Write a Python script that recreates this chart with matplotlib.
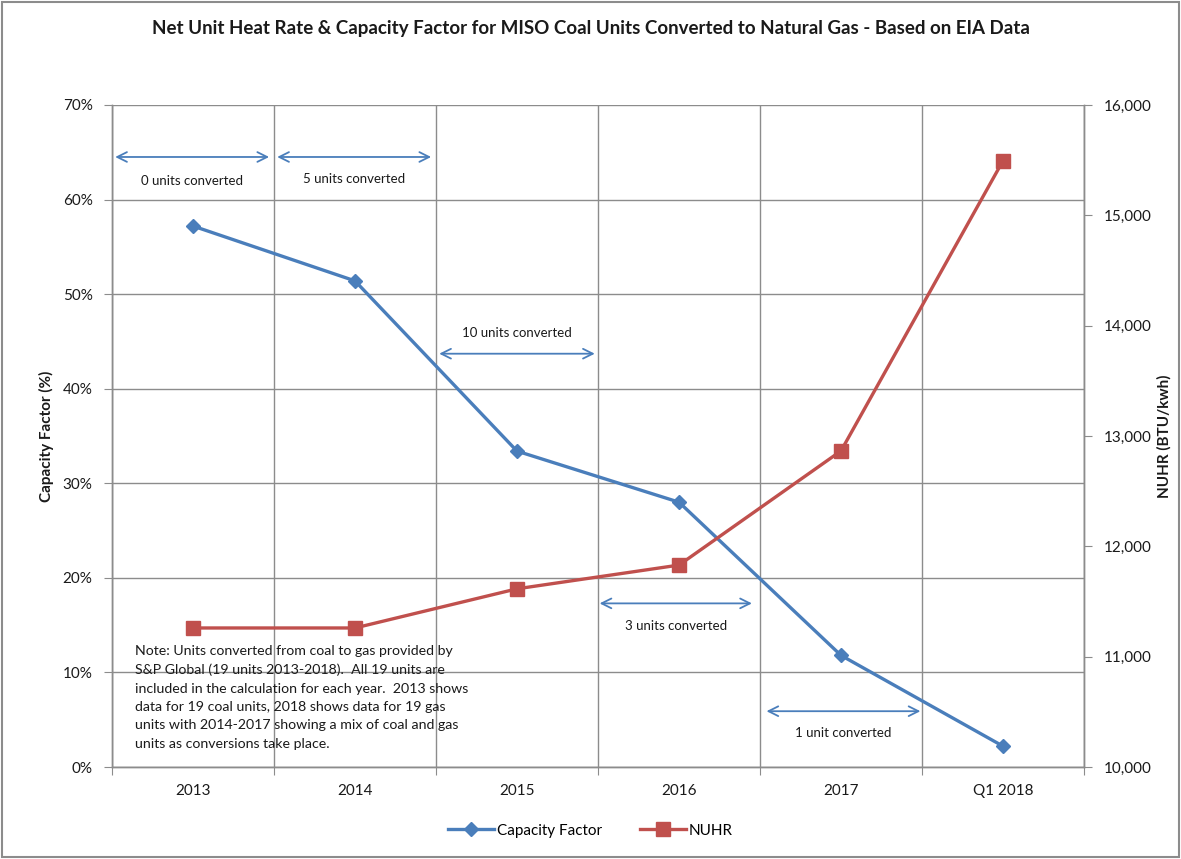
import matplotlib.pyplot as plt
from matplotlib.ticker import FuncFormatter, MultipleLocator, FixedLocator
from matplotlib.patches import Rectangle

plt.rcParams['font.family'] = ['Lato', 'DejaVu Sans']

# Yearly values for the converted units
years = ['2013', '2014', '2015', '2016', '2017', 'Q1 2018']
capacity_factor = [57.2, 51.4, 33.4, 28.0, 11.8, 2.2]
nuhr = [11260, 11260, 11615, 11830, 12865, 15495]

# Conversion annotations: arrow span, height in %, label, label height
conv_spans = [(-0.48, 0.47), (0.52, 1.47), (1.52, 2.48), (2.51, 3.45), (3.54, 4.49)]
conv_heights = [64.5, 64.5, 43.7, 17.3, 5.9]
conv_labels = ['0 units converted', '5 units converted', '10 units converted',
               '3 units converted', '1 unit converted']
conv_label_y = [62.0, 62.2, 45.9, 14.9, 3.6]

note_text = ("Note: Units converted from coal to gas provided by\n"
             "S&P Global (19 units 2013-2018).  All 19 units are\n"
             "included in the calculation for each year.  2013 shows\n"
             "data for 19 coal units, 2018 shows data for 19 gas\n"
             "units with 2014-2017 showing a mix of coal and gas\n"
             "units as conversions take place.")

blue = '#4A7EBB'
red = '#C0504D'
grid_col = '#8C8C8C'
text_col = '#1a1a1a'

fig = plt.figure(figsize=(11.81, 8.59), dpi=100)
ax = fig.add_axes([0.0948, 0.1071, 0.8231, 0.7707])
ax2 = ax.twinx()

x = list(range(len(years)))
ax.plot(x, capacity_factor, color=blue, lw=2.4, marker='D', markersize=7,
        label='Capacity Factor', zorder=5)
ax2.plot(x, nuhr, color=red, lw=2.4, marker='s', markersize=9.5,
         label='NUHR', zorder=5)

ax.set_xlim(-0.5, 5.5)
ax.set_ylim(0, 70)
ax2.set_ylim(10000, 16000)

# gridlines: horizontal at each 10%, vertical at category boundaries
ax.yaxis.set_major_locator(MultipleLocator(10))
ax.yaxis.set_major_formatter(FuncFormatter(lambda v, p: f'{v:.0f}%'))
ax2.yaxis.set_major_locator(MultipleLocator(1000))
ax2.yaxis.set_major_formatter(FuncFormatter(lambda v, p: f'{v:,.0f}'))

ax.xaxis.set_major_locator(FixedLocator([i - 0.5 for i in range(7)]))
ax.set_xticklabels([], minor=False)
ax.set_xticks(x, minor=True)
ax.set_xticklabels(years, minor=True)
ax.tick_params(axis='x', which='minor', length=0, pad=12, labelsize=11, labelcolor=text_col)
ax.tick_params(axis='x', which='major', length=6, color=grid_col, direction='out')
ax.tick_params(axis='y', length=6, color=grid_col, labelsize=11, labelcolor=text_col, pad=8)
ax2.tick_params(axis='y', length=6, color=grid_col, labelsize=11, labelcolor=text_col, pad=8)

ax.grid(True, which='major', color=grid_col, lw=1.0)
ax.set_axisbelow(True)

for a in (ax, ax2):
    a.spines['top'].set_visible(False)
    for s in ('left', 'right', 'bottom'):
        a.spines[s].set_color(grid_col)
        a.spines[s].set_linewidth(1.0)

ax.set_ylabel('Capacity Factor (%)', fontsize=11, fontweight='bold', labelpad=6, color=text_col)
ax2.set_ylabel('NUHR (BTU/kwh)', fontsize=11, fontweight='bold', labelpad=4,
               color=text_col, rotation=90)

# double-headed arrows marking conversion periods
for (x0, x1), yv, lab, ly in zip(conv_spans, conv_heights, conv_labels, conv_label_y):
    ax.annotate('', xy=(x1, yv), xytext=(x0, yv),
                arrowprops=dict(arrowstyle='<->, head_length=0.7, head_width=0.35',
                                color=blue, lw=1.3, shrinkA=0, shrinkB=0))
    ax.text((x0 + x1) / 2, ly, lab, ha='center', va='center', fontsize=9.5, color=text_col)

ax.text(-0.36, 12.9, note_text, ha='left', va='top', fontsize=10.2,
        linespacing=1.64, color=text_col, zorder=6)

fig.suptitle('Net Unit Heat Rate & Capacity Factor for MISO Coal Units Converted to Natural Gas - Based on EIA Data',
             x=0.5, y=0.977, fontsize=13.5, fontweight='bold', color=text_col)

h1, l1 = ax.get_legend_handles_labels()
h2, l2 = ax2.get_legend_handles_labels()
fig.legend(h1 + h2, l1 + l2, loc='center', bbox_to_anchor=(0.5, 0.033), ncol=2,
           frameon=False, fontsize=11, handlelength=3, columnspacing=2.5, handletextpad=0.2)

# outer border of the chart area
fig.patches.append(Rectangle((0.002, 0.002), 0.996, 0.996, transform=fig.transFigure,
                             fill=False, edgecolor='#8C8C8C', lw=1.5))

fig.savefig('out.png', dpi=100)
